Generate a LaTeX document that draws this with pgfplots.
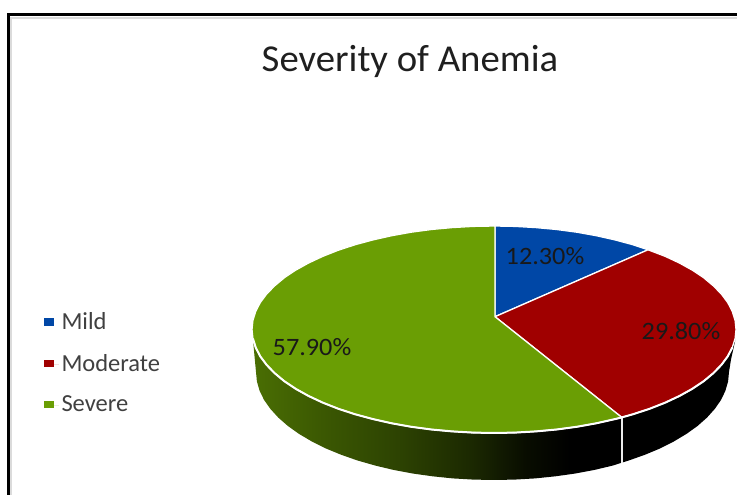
\documentclass[border=0pt]{standalone}
\usepackage{fontspec}
\setmainfont{Carlito}
\usepackage{pgfplots}
\pgfplotsset{compat=1.18}
\definecolor{mildblue}{HTML}{0047A6}
\definecolor{modred}{HTML}{A00000}
\definecolor{sevgreen}{HTML}{6A9E04}
\definecolor{labelgray}{HTML}{404040}
% Horizontal falloff on the front wall of the green slice
\pgfdeclarehorizontalshading{greenwall}{100bp}{
  color(0bp)=(black!30!sevgreen);
  color(25bp)=(black!30!sevgreen);
  color(35bp)=(black!45!sevgreen);
  color(45bp)=(black!58!sevgreen);
  color(55bp)=(black!75!sevgreen);
  color(62bp)=(black!92!sevgreen);
  color(68bp)=(black);
  color(75bp)=(black);
  color(100bp)=(black)}
\begin{document}
\begin{tikzpicture}
\begin{axis}[
  scale only axis, width=737pt, height=495pt,
  xmin=-494, xmax=243, ymin=-165.5, ymax=329.5,
  hide axis, clip=true,
  legend style={at={(axis cs:-451,-33.5)}, anchor=west, draw=none, fill=none,
    font=\fontsize{24.5}{28}\selectfont\color{labelgray}, row sep=19pt,
    inner sep=0pt},
  legend image code/.code={
    \path (0pt,0pt) rectangle (15pt,0pt);
    \fill[#1, draw=none] (0pt,-3.8pt) rectangle (10pt,3.8pt);},
  legend cell align=left,
]
% The picture keeps the full plot area as its extent
\path (axis cs:-494,-165.5) rectangle (axis cs:243,329.5);
% Outer chart frame
\draw[black!14, line width=2pt] (axis cs:-482.7,-165.5) -- (axis cs:-482.7,311.7) -- (axis cs:243,311.7);
\draw[black, line width=3.3pt] (axis cs:-485.3,-165.5) -- (axis cs:-485.3,314.7) -- (axis cs:243,314.7);

% Front wall, green slice
\addplot[forget plot, draw=none, shade, shading=greenwall] coordinates {
  (-242,0) (-238,-42.5) (-237.1,-51.9) (-234.4,-61.3) (-229.9,-70.5) (-223.6,-79.4)
  (-215.7,-88.1) (-206.1,-96.5) (-195,-104.4) (-182.3,-111.9) (-168.3,-118.9)
  (-153,-125.2) (-136.5,-131) (-119,-136) (-100.6,-140.4) (-81.4,-144) (-61.6,-146.8)
  (-41.3,-148.9) (-20.7,-150.1) (0,-150.5) (20.7,-150.1) (41.3,-148.9) (61.6,-146.8)
  (81.4,-144) (100.6,-140.4) (119,-136) (127.7,-133.2) (127.7,-87.9)} --cycle;
% Front wall, red slice
\addplot[forget plot, draw=none, fill=black] coordinates {
  (127.7,-87.9) (127.7,-133.2) (134.8,-131) (151.1,-125.2) (166.2,-118.9) (180,-111.9)
  (192.5,-104.4) (203.5,-96.5) (213,-88.1) (220.8,-79.4) (227,-70.5) (231.4,-61.3)
  (234.1,-51.9) (235,-42.5) (237,-30) (241,-12) (242,0)} --cycle;
% Seam between the two walls
\addplot[forget plot, white!92!black, line width=1.6pt] coordinates {(127.7,-87.9) (127.7,-133.2)};

% Top face: Mild 12.3%, Moderate 29.8%, Severe 57.9%
\addplot[fill=mildblue, draw=white, line width=1.3pt] coordinates {
  (1,12.8) (1,103.5) (21.1,103.1) (42,101.9) (62.6,100) (82.8,97.3) (102.3,93.8)
  (121,89.6) (138.8,84.8) (154,79.7)} --cycle;
\addplot[fill=modred, draw=white, line width=1.3pt] coordinates {
  (1,12.8) (154,79.7) (171.1,73.2) (185.4,66.5) (198.2,59.4) (209.6,51.8) (219.3,43.7)
  (227.4,35.4) (233.8,26.8) (238.3,18) (241.1,9) (242,0) (241.1,-9) (238.3,-18)
  (233.8,-26.8) (227.4,-35.4) (219.3,-43.7) (209.6,-51.8) (198.2,-59.4) (185.4,-66.5)
  (171.1,-73.2) (155.6,-79.3) (138.8,-84.8) (127.8,-87.9)} --cycle;
\addplot[fill=sevgreen, draw=white, line width=1.3pt] coordinates {
  (1,12.8) (127.8,-87.9) (121,-89.6) (102.3,-93.8) (82.8,-97.3) (62.6,-100) (42,-101.9)
  (21.1,-103.1) (0,-103.5) (-21.1,-103.1) (-42,-101.9) (-62.6,-100) (-82.8,-97.3)
  (-102.3,-93.8) (-121,-89.6) (-138.8,-84.8) (-155.6,-79.3) (-171.1,-73.2) (-185.4,-66.5)
  (-198.2,-59.4) (-209.6,-51.8) (-219.3,-43.7) (-227.4,-35.4) (-233.8,-26.8) (-238.3,-18)
  (-241.1,-9) (-242,0) (-241.1,9) (-238.3,18) (-233.8,26.8) (-227.4,35.4) (-219.3,43.7)
  (-209.6,51.8) (-198.2,59.4) (-185.4,66.5) (-171.1,73.2) (-155.6,79.3) (-138.8,84.8)
  (-121,89.6) (-102.3,93.8) (-82.8,97.3) (-62.6,100) (-42,101.9) (-21.1,103.1) (1,103.5)} --cycle;
% Heavier highlight where the top face meets the front walls
\addplot[forget plot, white, line width=2pt, line join=round] coordinates {
  (-241.1,-9) (-238.3,-18) (-233.8,-26.8) (-227.4,-35.4) (-219.3,-43.7) (-209.6,-51.8)
  (-198.2,-59.4) (-185.4,-66.5) (-171.1,-73.2) (-155.6,-79.3) (-138.8,-84.8) (-121,-89.6)
  (-102.3,-93.8) (-82.8,-97.3) (-62.6,-100) (-42,-101.9) (-21.1,-103.1) (0,-103.5)
  (21.1,-103.1) (42,-101.9) (62.6,-100) (82.8,-97.3) (102.3,-93.8) (121,-89.6) (127.8,-87.9)
  (138.8,-84.8) (155.6,-79.3) (171.1,-73.2) (185.4,-66.5) (198.2,-59.4) (209.6,-51.8)
  (219.3,-43.7) (227.4,-35.4) (233.8,-26.8) (238.3,-18)};
\legend{Mild, Moderate, Severe}

% Slice percentages
\node[font=\fontsize{25}{28}\selectfont, text=black!90, xscale=1.05] at (axis cs:51,73.5) {12.30\%};
\node[font=\fontsize{25}{28}\selectfont, text=black!90, xscale=1.05] at (axis cs:187,-1.5) {29.80\%};
\node[font=\fontsize{25}{28}\selectfont, text=black!90, xscale=1.05] at (axis cs:-182,-17.5) {57.90\%};
% Chart title
\node[font=\fontsize{38}{42}\selectfont, text=black!88, xscale=1.02] at (axis cs:-84,268) {Severity of Anemia};
\end{axis}
\end{tikzpicture}
\end{document}
